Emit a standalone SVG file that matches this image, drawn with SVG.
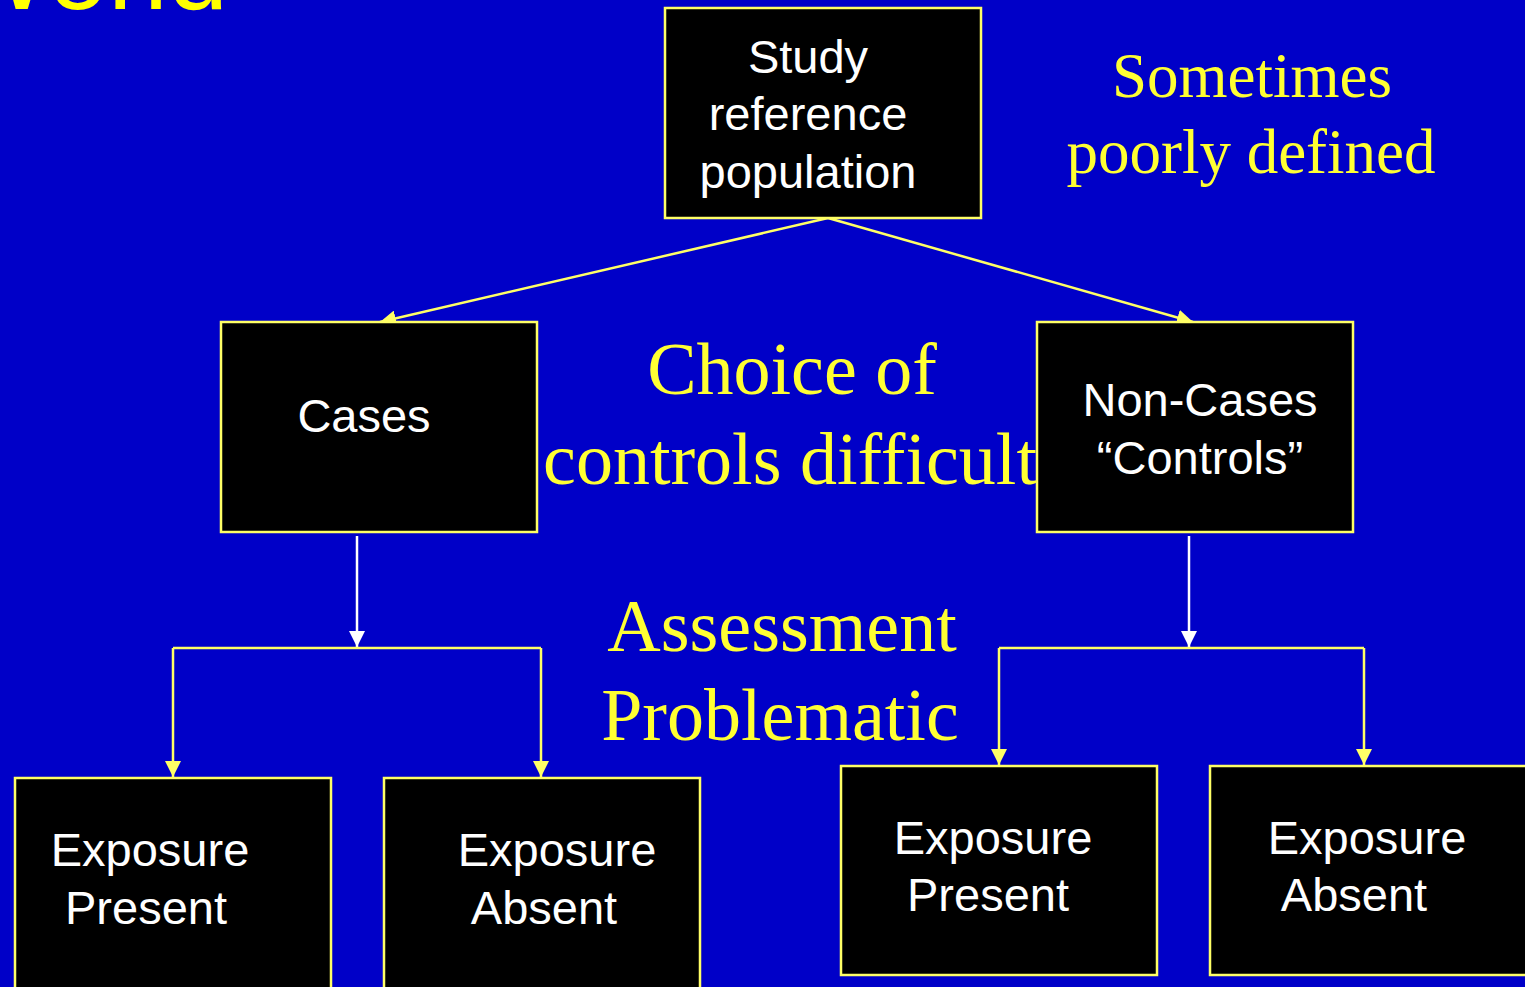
<svg xmlns="http://www.w3.org/2000/svg" width="1525" height="987" viewBox="0 0 1525 987">
<defs>
<style>
.box{fill:#000;stroke:#ffff66;stroke-width:2.5}
.wt{fill:#fff;font-family:"Liberation Sans",Arial,sans-serif;font-size:47px;text-anchor:middle}
.yt{fill:#ffff33;font-family:"Liberation Serif","Times New Roman",serif;text-anchor:middle}
.yl{stroke:#ffff66;stroke-width:2.5;fill:none}
.wl{stroke:#fff;stroke-width:2.5;fill:none}
</style>
<marker id="ayb" viewBox="0 0 10 10" refX="10" refY="5" markerWidth="16" markerHeight="16" markerUnits="userSpaceOnUse" orient="auto"><path d="M0,0 L10,5 L0,10 z" fill="#ffff66"/></marker>
<marker id="aw" viewBox="0 0 10 10" refX="10" refY="5" markerWidth="16" markerHeight="22" markerUnits="userSpaceOnUse" orient="auto"><path d="M0,0 L10,5 L0,10 z" fill="#fff"/></marker>
</defs>
<rect x="0" y="0" width="1525" height="987" fill="#0000c8"/>
<text x="228" y="9" fill="#ffff00" font-family="Liberation Sans, Arial, sans-serif" font-size="108" text-anchor="end">World</text>

<g id="connectors">
<line class="yl" x1="828" y1="218" x2="380" y2="322" marker-end="url(#ayb)"/>
<line class="yl" x1="828" y1="218" x2="1193" y2="322" marker-end="url(#ayb)"/>
<line class="wl" x1="357" y1="536" x2="357" y2="647" marker-end="url(#aw)"/>
<line class="wl" x1="1189" y1="536" x2="1189" y2="647" marker-end="url(#aw)"/>
<polyline class="yl" points="173,648 541,648"/>
<line class="yl" x1="173" y1="648" x2="173" y2="777" marker-end="url(#ayb)"/>
<line class="yl" x1="541" y1="648" x2="541" y2="777" marker-end="url(#ayb)"/>
<polyline class="yl" points="999,648 1364,648"/>
<line class="yl" x1="999" y1="648" x2="999" y2="765" marker-end="url(#ayb)"/>
<line class="yl" x1="1364" y1="648" x2="1364" y2="765" marker-end="url(#ayb)"/>
</g>

<g id="study">
<rect class="box" x="665" y="8" width="316" height="210"/>
<text class="wt" x="808" y="73">Study</text>
<text class="wt" x="808" y="130">reference</text>
<text class="wt" x="808" y="188">population</text>
</g>

<g id="note-sometimes">
<text class="yt" x="1252" y="97" font-size="63">Sometimes</text>
<text class="yt" x="1251" y="173" font-size="63">poorly defined</text>
</g>

<g id="cases">
<rect class="box" x="221" y="322" width="316" height="210"/>
<text class="wt" x="364" y="432">Cases</text>
</g>

<g id="noncases">
<rect class="box" x="1037" y="322" width="316" height="210"/>
<text class="wt" x="1200" y="416">Non-Cases</text>
<text class="wt" x="1200" y="474">“Controls”</text>
</g>

<g id="note-choice">
<text class="yt" x="792" y="394" font-size="74">Choice of</text>
<text class="yt" x="790" y="484" font-size="74">controls difficult</text>
</g>

<g id="note-assessment">
<text class="yt" x="782" y="651" font-size="74">Assessment</text>
<text class="yt" x="780" y="740" font-size="74">Problematic</text>
</g>

<g id="case-present">
<rect class="box" x="15" y="778" width="316" height="220"/>
<text class="wt" x="150" y="866">Exposure</text>
<text class="wt" x="146" y="924">Present</text>
</g>

<g id="case-absent">
<rect class="box" x="384" y="778" width="316" height="220"/>
<text class="wt" x="557" y="866">Exposure</text>
<text class="wt" x="544" y="924">Absent</text>
</g>

<g id="control-present">
<rect class="box" x="841" y="766" width="316" height="209"/>
<text class="wt" x="993" y="854">Exposure</text>
<text class="wt" x="988" y="911">Present</text>
</g>

<g id="control-absent">
<rect class="box" x="1210" y="766" width="330" height="209"/>
<text class="wt" x="1367" y="854">Exposure</text>
<text class="wt" x="1354" y="911">Absent</text>
</g>
</svg>
